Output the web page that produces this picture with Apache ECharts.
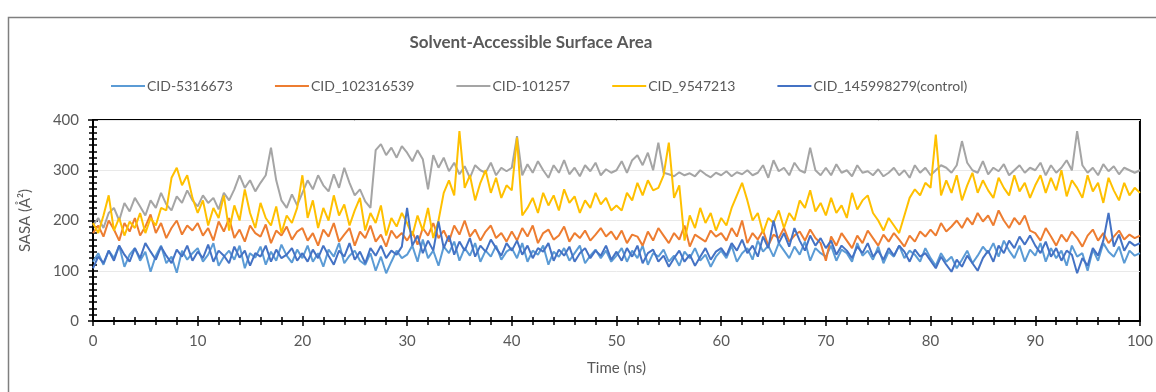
<!DOCTYPE html>
<html>
<head>
<meta charset="utf-8">
<script src="https://cdn.jsdelivr.net/npm/echarts@6/dist/echarts.min.js"></script>
<style>
  html, body { margin: 0; padding: 0; background: #fff; }
  #chart { width: 1156px; height: 392px; }
</style>
</head>
<body>
<div id="chart"></div>
<script>
// sampled every 0.5 ns, 0..100 ns (201 points per series)
const seriesNames = ["CID-5316673", "CID_102316539", "CID-101257", "CID_9547213", "CID_145998279(control)"];
const seriesColors = ["#5B9BD5", "#ED7D31", "#A5A5A5", "#FFC000", "#4472C4"];
const xTicks = [0, 10, 20, 30, 40, 50, 60, 70, 80, 90, 100];
const yTicks = [0, 100, 200, 300, 400];

const cid5316673 = [
  118,135,112,140,125,150,108,132,145,120,138,98,130,150,115,128,96,140,122,135,
  145,118,132,155,110,128,140,122,150,105,135,126,148,112,138,120,152,130,116,142,
  125,150,118,135,108,142,128,155,115,130,140,120,112,135,100,128,95,118,140,125,
  132,150,118,162,125,140,110,148,135,158,120,145,130,155,118,140,128,150,122,138,
  145,125,155,118,140,132,150,112,138,128,145,120,135,150,115,130,142,125,140,118,
  130,145,118,140,125,150,112,135,128,142,118,130,110,138,125,145,120,132,108,128,
  140,125,150,118,135,145,122,160,138,150,128,155,140,125,148,132,158,120,145,135,
  128,150,120,142,135,118,155,130,140,122,148,115,138,128,150,125,140,132,118,145,
  125,110,135,118,128,105,122,140,115,130,148,135,155,128,160,140,125,150,118,142,
  130,155,118,145,125,140,110,150,128,135,100,142,120,155,138,128,148,115,140,130,
  135
];
const cid102316539 = [
  175,190,168,200,182,160,195,178,205,170,188,212,175,195,165,185,200,172,190,180,
  195,170,185,160,198,178,205,165,182,158,190,175,168,192,155,180,170,188,162,178,
  185,160,175,150,182,168,195,158,172,185,150,178,165,190,158,172,148,180,165,175,
  160,178,152,185,170,195,165,180,158,190,172,200,168,182,160,178,190,165,175,158,
  178,160,185,168,190,155,175,182,162,170,188,158,175,165,180,160,172,185,168,178,
  162,180,155,172,168,150,178,160,185,170,155,175,162,190,148,172,165,158,180,168,
  175,160,185,168,200,155,175,162,180,150,172,165,185,158,170,178,160,182,165,155,
  120,168,150,175,160,145,170,155,180,165,150,172,158,175,162,148,170,158,178,168,
  182,170,195,178,188,200,185,205,192,215,198,210,190,220,200,185,205,192,210,180,
  175,160,185,168,150,172,158,178,165,148,170,182,160,175,155,168,180,162,172,165,
  170
];
const cid101257 = [
  190,205,185,215,225,200,235,218,245,228,210,240,225,255,232,220,248,235,260,240,
  228,250,235,245,222,255,240,262,290,265,280,258,275,290,345,280,240,225,252,230,
  255,280,262,290,270,258,292,265,305,275,250,262,238,225,340,352,330,345,325,348,
  335,318,340,322,262,330,305,325,298,315,292,308,285,310,300,295,315,290,305,298,
  305,368,290,312,295,318,300,285,310,295,320,292,305,288,310,298,315,290,302,295,
  300,318,295,320,330,310,335,300,355,295,292,288,296,290,294,288,300,292,286,295,
  290,298,288,296,292,300,290,295,310,285,320,298,305,290,315,300,295,345,300,290,
  305,290,312,295,300,288,310,295,298,290,302,288,295,305,290,300,285,310,295,305,
  290,300,310,305,295,310,358,315,300,295,318,292,305,298,312,290,300,310,295,305,
  300,315,290,310,295,305,320,300,378,310,295,305,290,312,298,308,292,305,300,295,
  300
];
const cid9547213 = [
  195,175,210,250,180,205,170,198,185,215,175,205,190,225,220,285,305,270,290,245,
  215,240,190,225,205,250,180,230,200,262,215,185,235,205,190,228,175,210,195,225,
  290,205,240,185,225,200,250,210,232,190,220,245,180,215,195,230,170,205,188,215,
  195,170,210,180,225,165,200,255,280,250,378,265,290,240,275,300,255,285,245,270,
  260,365,210,225,245,215,255,230,250,220,262,235,248,215,240,225,255,232,245,220,
  230,220,255,240,275,250,280,260,265,290,355,245,270,160,210,185,225,195,215,180,
  205,190,225,250,275,240,200,215,175,205,195,220,185,215,200,240,225,260,218,235,
  210,245,215,230,205,255,222,240,250,215,200,180,205,190,175,210,245,262,250,275,
  265,371,250,280,255,290,240,270,295,255,280,260,245,285,265,250,290,258,275,245,
  270,290,255,285,260,300,248,280,265,245,290,258,275,235,285,260,240,275,250,265,
  255
];
const cid145998279 = [
  105,128,115,140,120,150,132,118,145,125,155,138,122,148,130,115,142,128,150,120,
  138,125,152,118,140,130,115,148,126,140,110,135,128,150,118,142,125,132,145,120,
  135,118,142,125,150,130,112,140,128,155,122,138,115,145,130,150,125,140,132,148,
  225,150,170,135,160,140,198,145,170,132,158,140,165,128,150,138,162,145,130,155,
  140,160,132,150,125,145,138,155,120,142,130,148,118,135,145,125,140,130,150,122,
  138,120,145,128,150,115,135,142,118,130,108,125,140,118,132,110,128,145,122,138,
  145,130,155,140,162,135,150,128,168,145,200,155,175,148,185,160,140,170,150,165,
  145,160,132,150,140,125,148,135,155,128,140,122,145,130,150,138,118,142,128,135,
  120,105,128,112,98,122,108,130,115,100,125,140,118,150,135,160,145,168,152,170,
  150,135,158,128,145,120,140,132,95,125,110,145,130,160,215,148,172,140,158,150,
  155
];

const allValues = [cid5316673, cid102316539, cid101257, cid9547213, cid145998279];

const chart = echarts.init(document.getElementById("chart"));

const font = "Lato, 'Open Sans', sans-serif";
const textGray = "#595959";

chart.setOption({
  animation: false,
  backgroundColor: "#fff",
  graphic: [
    {
      type: "rect",
      left: 6,
      top: 15,
      shape: { width: 1200, height: 420 },
      style: { fill: "none", stroke: "#7f7f7f", lineWidth: 1.5 },
      silent: true,
    },
  ],
  title: {
    text: "Solvent-Accessible Surface Area",
    left: 526,
    top: 29,
    textAlign: "center",
    textStyle: { fontFamily: font, fontSize: 17, fontWeight: "bold", color: textGray },
  },
  legend: {
    top: 74,
    left: 106,
    icon: "rect",
    itemWidth: 34,
    itemHeight: 2,
    itemGap: 42,
    textStyle: { fontFamily: font, fontSize: 14, color: textGray, padding: [0, 0, 0, -3] },
    data: seriesNames,
  },
  grid: {
    left: 93,
    right: 11,
    top: 120,
    bottom: 71,
    show: true,
    borderColor: "#000",
    borderWidth: 2,
  },
  xAxis: [
    {
      type: "value",
      min: 0,
      max: 100,
      interval: 10,
      name: "Time (ns)",
      nameLocation: "middle",
      nameGap: 40,
      nameTextStyle: { fontFamily: font, fontSize: 15, color: textGray },
      axisLine: { lineStyle: { color: "#000", width: 2 } },
      axisTick: { show: true, length: 5, inside: false, lineStyle: { color: "#000", width: 1.5 } },
      minorTick: { show: true, splitNumber: 5, length: 4, lineStyle: { color: "#000", width: 1.5 } },
      axisLabel: {
        fontFamily: font, fontSize: 15, color: textGray, margin: 13,
        formatter: (v) => (xTicks.includes(v) ? String(v) : ""),
      },
      splitLine: { show: false },
    },
    {
      type: "value",
      min: 0,
      max: 100,
      interval: 10,
      position: "bottom",
      axisLine: { show: false },
      axisTick: { show: true, length: 5, inside: true, lineStyle: { color: "#000", width: 1.5 } },
      minorTick: { show: true, splitNumber: 5, length: 4, lineStyle: { color: "#000", width: 1.5 } },
      axisLabel: { show: false },
      splitLine: { show: false },
    },
  ],
  yAxis: [
    {
      type: "value",
      min: 0,
      max: 400,
      interval: 100,
      name: "SASA (Å²)",
      nameLocation: "middle",
      nameGap: 60,
      nameTextStyle: { fontFamily: font, fontSize: 15, color: textGray },
      axisLine: { show: true, lineStyle: { color: "#000", width: 2 } },
      axisTick: { show: true, length: 5, inside: false, lineStyle: { color: "#000", width: 1.5 } },
      minorTick: { show: true, splitNumber: 8, length: 4, lineStyle: { color: "#000", width: 1.5 } },
      axisLabel: {
        fontFamily: font, fontSize: 15, color: textGray, margin: 14,
        formatter: (v) => (yTicks.includes(v) ? String(v) : ""),
      },
      splitLine: { show: true, lineStyle: { color: "#e9e9e9", width: 1 } },
    },
    {
      type: "value",
      min: 0,
      max: 400,
      interval: 100,
      position: "left",
      axisLine: { show: false },
      axisTick: { show: true, length: 5, inside: true, lineStyle: { color: "#000", width: 1.5 } },
      minorTick: { show: true, splitNumber: 8, length: 4, lineStyle: { color: "#000", width: 1.5 } },
      axisLabel: { show: false },
      splitLine: { show: false },
    },
  ],
  series: seriesNames.map((name, s) => ({
    name,
    type: "line",
    symbol: "none",
    color: seriesColors[s],
    lineStyle: { width: 2, color: seriesColors[s] },
    data: allValues[s].map((v, i) => [i * 0.5, v]),
    z: 2 + s,
  })),
});
</script>
</body>
</html>
